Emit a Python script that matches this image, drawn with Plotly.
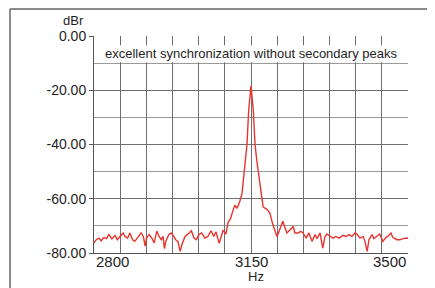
import plotly.graph_objects as go

# Spectrum (frequency in Hz, level in dBr)
freq_hz = [2800, 2805, 2811, 2816, 2822, 2828, 2833, 2840, 2847, 2852, 2858, 2865, 2869, 2875,
           2880, 2886, 2891, 2898, 2905, 2910, 2914, 2917, 2923, 2929, 2934, 2940, 2945, 2950,
           2954, 2957, 2960, 2967, 2972, 2978, 2982, 2987, 2992, 2996, 3003, 3012, 3017, 3023,
           3028, 3034, 3040, 3047, 3054, 3061, 3067, 3072, 3079, 3088, 3094, 3099, 3104, 3108,
           3114, 3119, 3125, 3130, 3134, 3141, 3145, 3150, 3155, 3159, 3163, 3168, 3174, 3177,
           3182, 3186, 3192, 3199, 3208, 3215, 3221, 3226, 3230, 3237, 3244, 3248, 3255, 3261,
           3266, 3273, 3279, 3286, 3293, 3297, 3304, 3310, 3315, 3319, 3328, 3333, 3339, 3346,
           3355, 3362, 3368, 3375, 3382, 3386, 3393, 3400, 3404, 3409, 3413, 3420, 3424, 3431,
           3437, 3444, 3451, 3455, 3462, 3466, 3475, 3482, 3489, 3498, 3500]
level_dbr = [-76.3, -75.1, -74.5, -75.5, -74.3, -74.7, -73.2, -74.8, -73.5, -75.1, -73.9, -72.6, -73.9, -74.5,
             -72.6, -75.1, -75.7, -74.2, -72.6, -73.9, -77.5, -74.5, -73.2, -74.5, -76.3, -71.9, -73.9, -75.1,
             -73.9, -78.4, -75.7, -73.2, -72.6, -73.9, -75.1, -75.7, -79.4, -76.9, -73.9, -72.6, -71.8, -74.5,
             -75.1, -73.2, -72.6, -74.5, -73.9, -71.8, -73.9, -72.2, -76.4, -71.6, -73.0, -68.6, -67.5, -65.3,
             -62.4, -63.5, -61.0, -58.0, -50.6, -40.0, -27.0, -18.4, -27.0, -40.0, -46.0, -53.0, -59.4, -63.0,
             -63.5, -64.0, -65.3, -69.7, -74.0, -70.8, -68.3, -70.8, -72.6, -71.4, -70.2, -72.6, -72.6, -72.0,
             -72.6, -74.5, -72.6, -75.7, -73.2, -74.7, -72.6, -78.2, -73.9, -73.0, -73.9, -74.5, -73.9, -74.5,
             -73.5, -73.9, -73.2, -73.9, -72.6, -73.0, -74.5, -73.9, -75.7, -79.4, -75.1, -73.2, -74.7, -73.9,
             -73.0, -75.7, -74.2, -73.9, -72.6, -74.2, -75.1, -75.1, -74.7, -74.5, -74.6]

x_range = [2800, 3500]
x_grid = [2800 + i * 700 / 12 for i in range(13)]
x_labels = [(2800, "2800", "left"), (3150, "3150", "center"), (3500, "3500", "right")]
y_ticks = [0, -20, -40, -60, -80]
y_ticktext = ["0.00", "-20.00", "-40.00", "-60.00", "-80.00"]
title_text = "excellent synchronization without secondary peaks"

FONT = "Liberation Sans, Arial, sans-serif"
TXT = "#1e1e1e"

# page body has an 8px margin; plot area targets px x 94..408, y 36..253
OFF = 8
PL, PR, PT, PB = 94, 408, 36, 253
PW, PH = PR - PL, PB - PT


def px_x(px):
    return (px - PL) / PW


def px_y(py):
    return (PB - py) / PH


fig = go.Figure()
fig.add_trace(go.Scatter(x=freq_hz, y=level_dbr, mode="lines",
                         line=dict(color="#e8342e", width=1.4), hoverinfo="skip",
                         showlegend=False))

fig.update_layout(
    width=435 - OFF, height=288 - OFF,
    margin=dict(l=PL - OFF, r=435 - PR, t=PT - OFF, b=288 - PB, pad=0),
    paper_bgcolor="white", plot_bgcolor="white",
    font=dict(family=FONT, color=TXT),
    xaxis=dict(range=x_range, tickmode="array", tickvals=x_grid,
               ticktext=[""] * len(x_grid), showgrid=True, gridcolor="#6e6e6e",
               gridwidth=1, zeroline=False, showline=True, linecolor="#555555",
               linewidth=1, ticks="", fixedrange=True),
    yaxis=dict(range=[-80, 0], tickmode="array", tickvals=y_ticks, ticktext=y_ticktext,
               tickfont=dict(size=14, color=TXT, family=FONT),
               showgrid=True, gridcolor="#6e6e6e", gridwidth=1,
               minor=dict(dtick=10, showgrid=True, gridcolor="#9a9a9a", gridwidth=1),
               zeroline=False, showline=True, linecolor="#555555", linewidth=1,
               ticks="outside", ticklen=4, tickcolor="#555555", fixedrange=True),
)

for xv, txt, anchor in x_labels:
    fig.add_annotation(x=xv, y=px_y(262), xref="x", yref="paper", text=txt, showarrow=False,
                       xanchor=anchor, yanchor="middle",
                       font=dict(size=15, color=TXT, family=FONT))

fig.add_annotation(x=px_x(256), y=px_y(276), xref="paper", yref="paper", text="Hz",
                   showarrow=False, xanchor="center", yanchor="middle",
                   font=dict(size=13, color=TXT, family=FONT))
fig.add_annotation(x=px_x(73), y=px_y(20), xref="paper", yref="paper", text="dBr",
                   showarrow=False, xanchor="center", yanchor="middle",
                   font=dict(size=13, color=TXT, family=FONT))

# white label band covering grid lines, with text
fig.add_shape(type="rect", xref="x domain", yref="y", x0=0.004, x1=0.996, y0=-3.4, y1=-9.7,
              fillcolor="white", line=dict(width=0), layer="above")
fig.add_annotation(x=0.5, y=-6.5, xref="x domain", yref="y", text=title_text, showarrow=False,
                   font=dict(size=13, color=TXT, family=FONT))

# outer frame (top and left edges)
fig.add_shape(type="line", xref="paper", yref="paper", x0=px_x(10), x1=px_x(440),
              y0=px_y(9), y1=px_y(9), line=dict(color="#666666", width=1.5))
fig.add_shape(type="line", xref="paper", yref="paper", x0=px_x(10), x1=px_x(10),
              y0=px_y(9), y1=px_y(295), line=dict(color="#666666", width=1.5))

fig.write_html("out.html")
